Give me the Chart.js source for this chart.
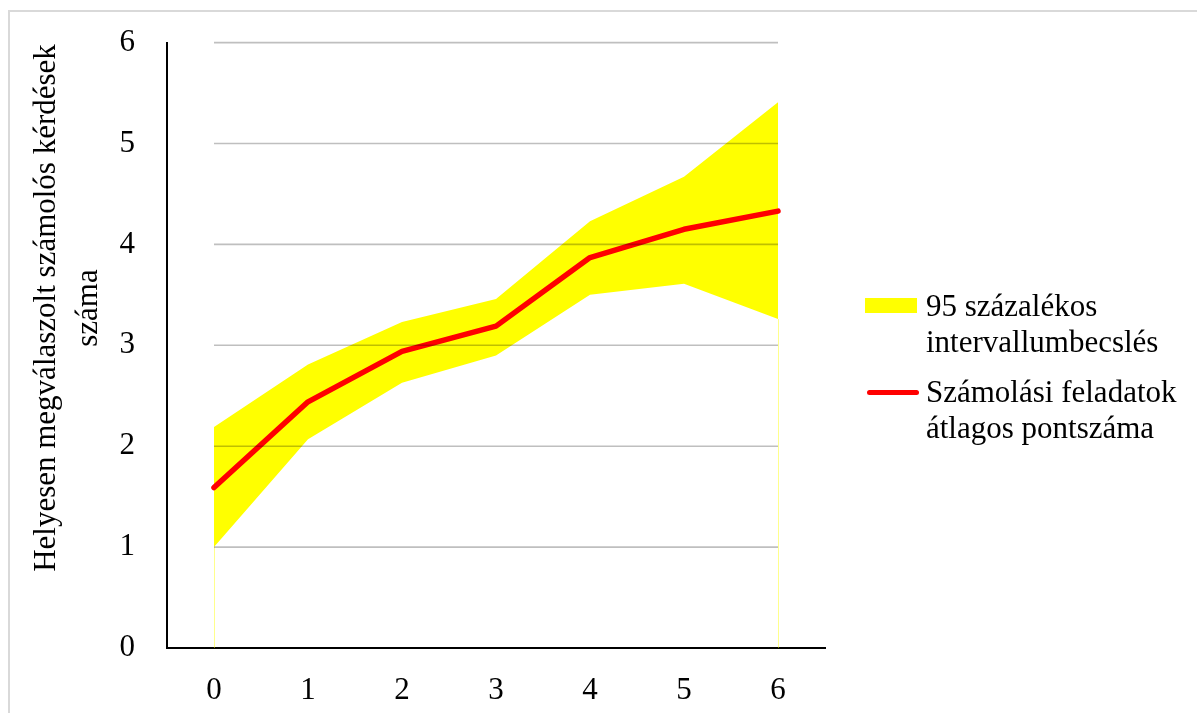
<!DOCTYPE html>
<html>
<head>
<meta charset="utf-8">
<script src="https://cdn.jsdelivr.net/npm/chart.js@4"></script>
<style>
  body { margin: 0; background: #fff; font-family: 'Times New Roman', 'Liberation Serif', serif; }
  #wrap { position: relative; width: 1197px; height: 713px; overflow: hidden; }
  #frame { position: absolute; left: 8px; top: 10px; width: 1300px; height: 800px;
    border-left: 2px solid #d9d9d9; border-top: 2px solid #d9d9d9; }
  #myChart { position: absolute; left: 0; top: 0; }
  #legend { position: absolute; left: 865px; top: 0; font-size: 31px; line-height: 36px; color: #000; }
  .item { position: absolute; left: 0; white-space: nowrap; }
  .mark { position: absolute; left: 0; }
  .txt { position: absolute; left: 61px; }
</style>
</head>
<body>
<div id="wrap">
  <div id="frame"></div>
  <canvas id="myChart" width="1197" height="713"></canvas>
  <div id="legend"></div>
</div>
<script>
const categories = ['0', '1', '2', '3', '4', '5', '6'];
const meanScore = [1.59, 2.44, 2.94, 3.19, 3.87, 4.15, 4.33];
const upperBound = [2.19, 2.81, 3.23, 3.46, 4.23, 4.67, 5.41];
const lowerBound = [1.0, 2.07, 2.63, 2.90, 3.50, 3.61, 3.26];
const yTicks = [0, 1, 2, 3, 4, 5, 6];
const bandLabel = ['95 százalékos', 'intervallumbecslés'];
const meanLabel = ['Számolási feladatok', 'átlagos pontszáma'];
const yTitle = ['Helyesen megválaszolt számolós kérdések', 'száma'];

const FONT = "'Times New Roman', 'Liberation Serif', serif";
const ctx = document.getElementById('myChart');

// Excel-like gridlines: only between first and last category, drawn over the series
const gridPlugin = {
  id: 'excelGrid',
  afterDatasetsDraw(chart) {
    const { ctx, scales: { x, y } } = chart;
    const x0 = x.getPixelForValue(0);
    const x1 = x.getPixelForValue(categories.length - 1);
    ctx.save();
    // thin edges of the stacked area
    ctx.strokeStyle = 'rgba(255,255,0,0.45)';
    ctx.lineWidth = 1;
    [0, categories.length - 1].forEach(i => {
      const px = Math.round(x.getPixelForValue(i)) + 0.5;
      ctx.beginPath();
      ctx.moveTo(px, y.getPixelForValue(0));
      ctx.lineTo(px, y.getPixelForValue(lowerBound[i]));
      ctx.stroke();
    });
    ctx.strokeStyle = 'rgba(0,0,0,0.25)';
    ctx.lineWidth = 1.6;
    yTicks.slice(1).forEach(v => {
      const py = y.getPixelForValue(v);
      ctx.beginPath();
      ctx.moveTo(x0, py);
      ctx.lineTo(x1, py);
      ctx.stroke();
    });
    ctx.restore();
  }
};

const titlePlugin = {
  id: 'yTitle',
  afterDraw(chart) {
    const { ctx } = chart;
    ctx.save();
    ctx.font = '31px ' + FONT;
    ctx.fillStyle = '#000';
    ctx.textAlign = 'center';
    ctx.textBaseline = 'alphabetic';
    ctx.translate(0, 308);
    ctx.rotate(-Math.PI / 2);
    ctx.fillText(yTitle[0], 0, 55);
    ctx.fillText(yTitle[1], 0, 97);
    ctx.restore();
  }
};

const chart = new Chart(ctx, {
  type: 'line',
  data: {
    labels: categories,
    datasets: [
      {
        label: bandLabel.join(' '),
        data: lowerBound,
        borderWidth: 0,
        pointRadius: 0,
        fill: false,
        order: 2
      },
      {
        label: bandLabel.join(' '),
        data: upperBound,
        borderWidth: 0,
        borderColor: 'rgba(0,0,0,0)',
        backgroundColor: '#ffff00',
        pointRadius: 0,
        fill: 0,
        order: 1
      },
      {
        label: meanLabel.join(' '),
        data: meanScore,
        borderColor: '#ff0000',
        borderWidth: 5.5,
        borderCapStyle: 'round',
        borderJoinStyle: 'round',
        pointRadius: 0,
        tension: 0,
        fill: false,
        order: 0
      }
    ]
  },
  options: {
    responsive: false,
    animation: false,
    devicePixelRatio: 1,
    layout: { padding: { top: 37, right: 372, left: 0, bottom: 0 } },
    plugins: {
      legend: { display: false },
      tooltip: { enabled: false }
    },
    scales: {
      x: {
        offset: true,
        grid: { display: false },
        border: { display: true, color: '#000', width: 2 },
        ticks: { color: '#000', padding: 16, font: { family: FONT, size: 31 }, maxRotation: 0 },
        afterFit(scale) { scale.height = 65; }
      },
      y: {
        min: 0,
        max: 6,
        grid: { display: false },
        border: { display: true, color: '#000', width: 2 },
        ticks: {
          color: '#000',
          padding: 24,
          stepSize: 1,
          font: { family: FONT, size: 31 }
        },
        afterBuildTicks(scale) { scale.ticks = yTicks.map(v => ({ value: v })); },
        afterFit(scale) { scale.width = 167; }
      }
    }
  },
  plugins: [gridPlugin, titlePlugin]
});

// html legend with wrapped labels
const legend = document.getElementById('legend');
const items = [
  { lines: bandLabel, top: 288, mark: '<div style="width:52px;height:15px;background:#ffff00;top:10px" class="mark"></div>' },
  { lines: meanLabel, top: 374, mark: '<div style="width:52px;height:5px;border-radius:3px;background:#ff0000;top:16px;left:2px" class="mark"></div>' }
];
items.forEach(it => {
  const d = document.createElement('div');
  d.className = 'item';
  d.style.top = it.top + 'px';
  d.innerHTML = it.mark + '<div class="txt">' + it.lines.join('<br>') + '</div>';
  legend.appendChild(d);
});
</script>
</body>
</html>
